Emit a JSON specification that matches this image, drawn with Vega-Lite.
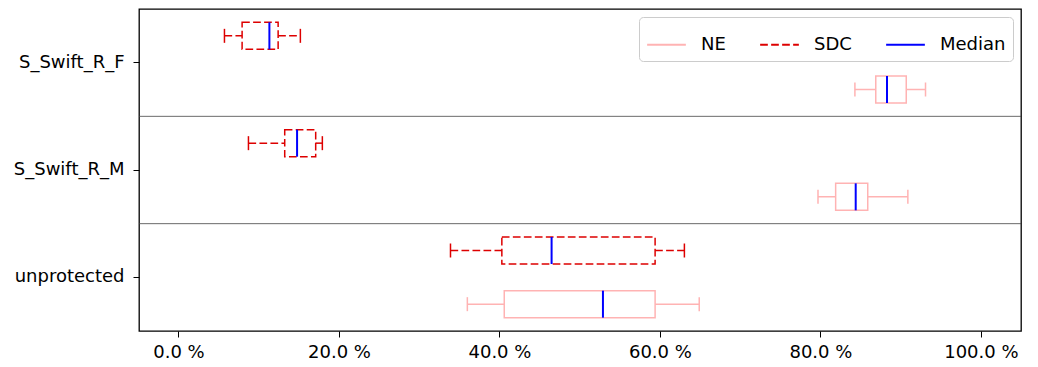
{
  "$schema": "https://vega.github.io/schema/vega-lite/v6.json",
  "width": 882,
  "height": 322,
  "autosize": {"type": "none"},
  "padding": {"left": 139, "top": 9, "right": 17, "bottom": 36},
  "background": "white",
  "datasets": {
    "boxes": [
      {"cat": "S_Swift_R_F", "type": "SDC", "lo": 5.73, "q1": 7.93, "med": 11.33, "q3": 12.42, "hi": 15.19},
      {"cat": "S_Swift_R_F", "type": "NE", "lo": 84.3, "q1": 86.9, "med": 88.3, "q3": 90.7, "hi": 93.1},
      {"cat": "S_Swift_R_M", "type": "SDC", "lo": 8.72, "q1": 13.24, "med": 14.78, "q3": 17.1, "hi": 17.93},
      {"cat": "S_Swift_R_M", "type": "NE", "lo": 79.7, "q1": 81.9, "med": 84.4, "q3": 85.9, "hi": 90.9},
      {"cat": "unprotected", "type": "SDC", "lo": 33.9, "q1": 40.3, "med": 46.5, "q3": 59.4, "hi": 63.05},
      {"cat": "unprotected", "type": "NE", "lo": 36.0, "q1": 40.6, "med": 52.9, "q3": 59.4, "hi": 64.9}
    ],
    "splits": [
      {"cat": "S_Swift_R_M"},
      {"cat": "unprotected"}
    ]
  },
  "data": {"name": "boxes"},
  "encoding": {
    "y": {
      "field": "cat",
      "type": "nominal",
      "scale": {"domain": ["S_Swift_R_F", "S_Swift_R_M", "unprotected"], "paddingInner": 0, "paddingOuter": 0},
      "axis": {
        "title": null,
        "labelFontSize": 18,
        "labelColor": "black",
        "labelPadding": 9,
        "tickSize": 6,
        "tickColor": "black",
        "tickWidth": 1,
        "domain": false,
        "grid": false
      }
    },
    "yOffset": {
      "field": "type",
      "type": "nominal",
      "scale": {"domain": ["SDC", "NE"], "paddingInner": 0, "paddingOuter": 0}
    }
  },
  "layer": [
    {
      "data": {"name": "splits"},
      "mark": {"type": "rule", "color": "#444444", "strokeWidth": 0.8},
      "encoding": {
        "y": {"field": "cat", "type": "nominal", "bandPosition": 0},
        "yOffset": null
      }
    },
    {
      "mark": {"type": "rule", "strokeWidth": 1.5},
      "encoding": {
        "x": {
          "field": "lo",
          "type": "quantitative",
          "scale": {"domain": [-4.92, 105], "nice": false, "zero": false},
          "axis": {
            "title": null,
            "values": [0, 20, 40, 60, 80, 100],
            "labelExpr": "format(datum.value, '.1f') + ' %'",
            "labelFontSize": 18,
            "labelColor": "black",
            "labelPadding": 6,
            "tickSize": 6,
            "tickColor": "black",
            "domain": false,
            "grid": false
          }
        },
        "x2": {"field": "q1"},
        "color": {"field": "type", "type": "nominal", "scale": {"domain": ["NE", "SDC", "Median"], "range": ["#ffb3b3", "#dd0000", "#0000ff"]}},
        "strokeDash": {"field": "type", "type": "nominal", "scale": {"domain": ["NE", "SDC", "Median"], "range": [[1, 0], [7.7, 3.3], [1, 0]]}}
      }
    },
    {
      "mark": {"type": "rule", "strokeWidth": 1.5},
      "encoding": {
        "x": {"field": "q3", "type": "quantitative"},
        "x2": {"field": "hi"},
        "color": {"field": "type", "type": "nominal"},
        "strokeDash": {"field": "type", "type": "nominal"}
      }
    },
    {
      "mark": {"type": "tick", "size": 14, "thickness": 1.5, "opacity": 1},
      "encoding": {
        "x": {"field": "lo", "type": "quantitative"},
        "color": {"field": "type", "type": "nominal"}
      }
    },
    {
      "mark": {"type": "tick", "size": 14, "thickness": 1.5, "opacity": 1},
      "encoding": {
        "x": {"field": "hi", "type": "quantitative"},
        "color": {"field": "type", "type": "nominal"}
      }
    },
    {
      "mark": {"type": "bar", "filled": false, "size": 27, "strokeWidth": 1.5},
      "encoding": {
        "x": {"field": "q1", "type": "quantitative"},
        "x2": {"field": "q3"},
        "color": {"field": "type", "type": "nominal"},
        "strokeDash": {"field": "type", "type": "nominal"}
      }
    },
    {
      "mark": {"type": "tick", "size": 27, "thickness": 2, "opacity": 1},
      "encoding": {
        "x": {"field": "med", "type": "quantitative"},
        "color": {"datum": "Median"}
      }
    }
  ],
  "config": {
    "font": "DejaVu Sans",
    "view": {"stroke": "black", "strokeWidth": 1.3},
    "legend": {
      "title": null,
      "orient": "top-right",
      "offset": 8,
      "direction": "horizontal",
      "columns": 3,
      "symbolType": "stroke",
      "symbolSize": 1500,
      "symbolStrokeWidth": 2.2,
      "symbolOpacity": 1,
      "labelFontSize": 18,
      "labelColor": "black",
      "labelOffset": 14,
      "columnPadding": 29,
      "padding": 7,
      "strokeColor": "#cccccc",
      "cornerRadius": 4,
      "fillColor": "white"
    }
  }
}
